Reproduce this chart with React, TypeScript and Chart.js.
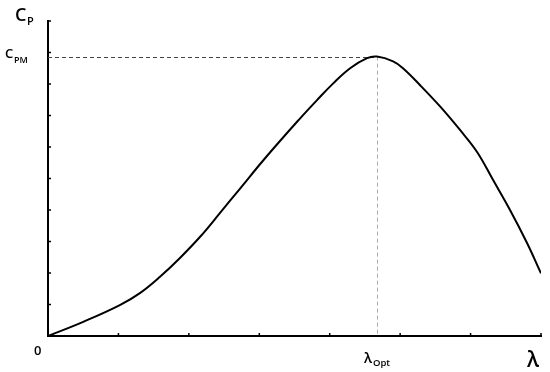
import React, { useEffect, useRef } from "react";
import { Chart, registerables } from "chart.js";

Chart.register(...registerables);

// Tip-speed ratio (λ) samples and power coefficient (Cp) values
const lambdaValues = [0, 0.5, 1.02, 1.31, 1.59, 1.87, 2.16, 2.44, 2.73, 3.1, 3.58, 3.82, 4.05, 4.29, 4.53, 4.67, 4.9, 5.04, 5.28, 5.57, 5.85, 6.09, 6.32, 6.56, 6.8, 7.0];
const cpValues = [0, 0.45, 0.98, 1.37, 1.88, 2.47, 3.15, 3.9, 4.69, 5.69, 6.91, 7.49, 8.02, 8.5, 8.82, 8.87, 8.72, 8.5, 7.97, 7.28, 6.54, 5.85, 4.95, 4.0, 2.96, 1.99];
const xTicks = [1, 2, 3, 4, 5, 6, 7];
const yTicks = [1, 2, 3, 4, 5, 6, 7, 8, 9, 10];

const FONT = "'Open Sans', 'DejaVu Sans', sans-serif";

export default function App() {
  const canvasRef = useRef<HTMLCanvasElement | null>(null);

  useEffect(() => {
    const canvas = canvasRef.current;
    if (!canvas) return;

    let peakIdx = 0;
    cpValues.forEach((v, i) => {
      if (v > cpValues[peakIdx]) peakIdx = i;
    });
    const peakX = lambdaValues[peakIdx];
    const peakY = cpValues[peakIdx];

    const decorPlugin = {
      id: "decor",
      beforeDatasetsDraw(chart: any) {
        const ctx = chart.ctx;
        const xs = chart.scales.x;
        const ys = chart.scales.y;
        const px = xs.getPixelForValue(peakX);
        const py = ys.getPixelForValue(peakY);
        const x0 = xs.getPixelForValue(0);
        const y0 = ys.getPixelForValue(0);
        ctx.save();
        ctx.lineWidth = 1;
        ctx.setLineDash([4, 3]);
        ctx.strokeStyle = "#444";
        ctx.beginPath();
        ctx.moveTo(x0, Math.round(py) + 0.5);
        ctx.lineTo(px, Math.round(py) + 0.5);
        ctx.stroke();
        ctx.strokeStyle = "#aaa";
        ctx.beginPath();
        ctx.moveTo(Math.round(px) + 0.5, py);
        ctx.lineTo(Math.round(px) + 0.5, y0);
        ctx.stroke();
        ctx.restore();
      },
      afterDraw(chart: any) {
        const ctx = chart.ctx;
        const xs = chart.scales.x;
        const ys = chart.scales.y;
        const x0 = xs.getPixelForValue(0);
        const y0 = ys.getPixelForValue(0);
        const px = xs.getPixelForValue(peakX);
        const py = ys.getPixelForValue(peakY);
        ctx.save();
        ctx.strokeStyle = "#000";
        ctx.lineWidth = 1.5;
        yTicks.forEach((t) => {
          const y = ys.getPixelForValue(t);
          ctx.beginPath();
          ctx.moveTo(x0, y);
          ctx.lineTo(x0 + 3, y);
          ctx.stroke();
        });
        xTicks.forEach((t) => {
          const x = xs.getPixelForValue(t);
          ctx.beginPath();
          ctx.moveTo(x, y0);
          ctx.lineTo(x, y0 - 3);
          ctx.stroke();
        });

        ctx.fillStyle = "#000";
        ctx.textBaseline = "alphabetic";
        ctx.textAlign = "left";
        const top = ys.getPixelForValue(10);
        // C_P axis title
        ctx.font = `600 18px ${FONT}`;
        ctx.fillText("C", x0 - 33, top);
        ctx.font = `600 11px ${FONT}`;
        ctx.fillText("P", x0 - 21, top + 4);
        // C_PM label
        ctx.font = `600 13px ${FONT}`;
        ctx.fillText("C", x0 - 43, py + 1);
        ctx.font = `600 9px ${FONT}`;
        ctx.fillText("PM", x0 - 34, py + 6);
        // origin
        ctx.font = `600 13px ${FONT}`;
        ctx.fillText("0", x0 - 14, y0 + 19);
        // λ_Opt
        ctx.font = `600 14px ${FONT}`;
        ctx.fillText("λ", px - 13, y0 + 27);
        ctx.font = `600 9.5px ${FONT}`;
        ctx.fillText("Opt", px - 4, y0 + 30);
        // λ axis title
        ctx.font = `600 21px ${FONT}`;
        ctx.fillText("λ", xs.right - 14, y0 + 31);
        ctx.restore();
      },
    };

    const chart = new Chart(canvas, {
      type: "line",
      data: {
        datasets: [
          {
            data: lambdaValues.map((x, i) => ({ x, y: cpValues[i] })),
            borderColor: "#000",
            borderWidth: 2,
            pointRadius: 0,
            fill: false,
            tension: 0.4,
          },
        ],
      },
      options: {
        animation: false,
        responsive: true,
        maintainAspectRatio: false,
        layout: { padding: { left: 48, top: 21, right: 9, bottom: 36 } },
        plugins: { legend: { display: false }, tooltip: { enabled: false } },
        scales: {
          x: {
            type: "linear",
            min: 0,
            max: 7,
            grid: { display: false, drawTicks: false },
            ticks: { display: false },
            border: { display: true, color: "#000", width: 2 },
          },
          y: {
            type: "linear",
            min: 0,
            max: 10,
            grid: { display: false, drawTicks: false },
            ticks: { display: false },
            border: { display: true, color: "#000", width: 2 },
          },
        },
      },
      plugins: [decorPlugin],
    } as any);

    return () => chart.destroy();
  }, []);

  return (
    <div style={{ position: "fixed", left: 0, top: 0, width: 550, height: 372, background: "#fff" }}>
      <canvas ref={canvasRef} />
    </div>
  );
}
